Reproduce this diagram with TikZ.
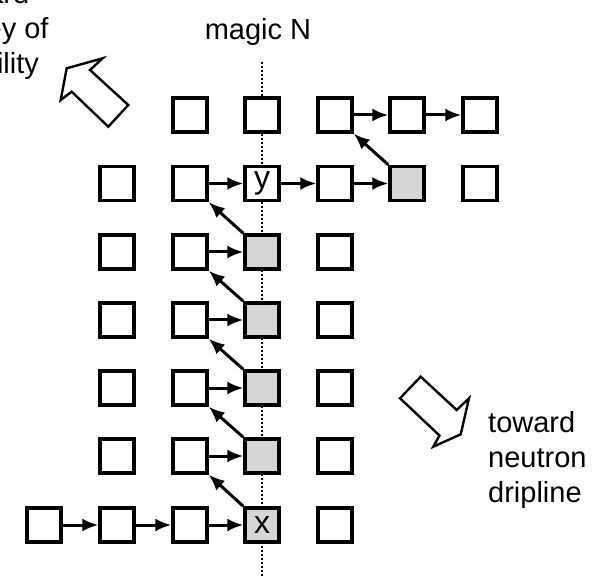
\documentclass[tikz,border=0pt]{standalone}
\usepackage{fontspec}
\setmainfont{Liberation Sans}
\usetikzlibrary{arrows.meta}
\definecolor{nucgray}{RGB}{214,214,214}

\begin{document}
\begin{tikzpicture}[x=1pt,y=-1pt,
  nuc/.style={draw, line width=3.4pt, minimum size=34pt, inner sep=0pt,
    fill=white, font=\fontsize{32}{36}\selectfont},
  rpath/.style={nuc, fill=nucgray},
  flow/.style={line width=3pt, -{Latex[length=16pt,width=13pt]}},
  bigarrow/.style={line width=2.4pt, line join=miter},
  magicline/.style={line width=2pt, dash pattern=on 2pt off 2pt},
  caption/.style={font=\fontsize{29}{35}\selectfont, inner sep=0pt, align=left}]
\useasboundingbox (0,0) rectangle (597,577);

% magic neutron number
\coordinate (magtop) at (262,62);
\coordinate (magbot) at (262,577);
\draw[magicline] (magtop) -- (magbot);
\node[caption, anchor=base] (magic) at (258,40) {magic N};

% row 1
\node[nuc] (n13) at (190,115) {};
\node[nuc] (n14) at (262,115) {};
\node[nuc] (n15) at (335,115) {};
\node[nuc] (n16) at (407,115) {};
\node[nuc] (n17) at (480,115) {};
% row 2
\node[nuc] (n22) at (117,183.5) {};
\node[nuc] (n23) at (190,183.5) {};
\node[nuc] (n24) at (262,183.5) {y};
\node[nuc] (n25) at (335,183.5) {};
\node[rpath] (n26) at (407,183.5) {};
\node[nuc] (n27) at (480,183.5) {};
% rows 3 to 6
\foreach \r/\y in {3/252,4/320,5/388,6/456}{
  \node[nuc] (n\r2) at (117,\y) {};
  \node[nuc] (n\r3) at (190,\y) {};
  \node[rpath] (n\r4) at (262,\y) {};
  \node[nuc] (n\r5) at (335,\y) {};
}
% row 7
\node[nuc] (n71) at (44,525) {};
\node[nuc] (n72) at (117,525) {};
\node[nuc] (n73) at (190,525) {};
\node[rpath] (n74) at (262,525) {x};
\node[nuc] (n75) at (335,525) {};

% reaction flow
\draw[flow] (n71) -- (n72);
\draw[flow] (n72) -- (n73);
\draw[flow] (n73) -- (n74);
\foreach \a/\b in {7/6,6/5,5/4,4/3,3/2}{
  \draw[flow] (n\a4.north west) -- (n\b3.south east);
}
\foreach \r in {6,5,4,3,2}{
  \draw[flow] (n\r3) -- (n\r4);
}
\draw[flow] (n24) -- (n25);
\draw[flow] (n25) -- (n26);
\draw[flow] (n26.north west) -- (n15.south east);
\draw[flow] (n15) -- (n16);
\draw[flow] (n16) -- (n17);

% hollow direction arrows
\draw[bigarrow] (66.7,68.3) -- (102.7,58.3) -- (90,70) -- (128.3,105)
  -- (108.3,126.7) -- (71.7,91.7) -- (60.7,100) -- cycle;
\draw[bigarrow] (420.7,376.7) -- (456.7,410) -- (469,398.3) -- (460.7,434.3)
  -- (433.3,446.7) -- (439.5,435.5) -- (400,398.3) -- cycle;

\node[caption, anchor=base west] (valley) at (-58,74) {toward\\valley of\\stability};
\node[caption, anchor=base west] (drip) at (488,502) {toward\\neutron\\dripline};
\end{tikzpicture}
\end{document}
